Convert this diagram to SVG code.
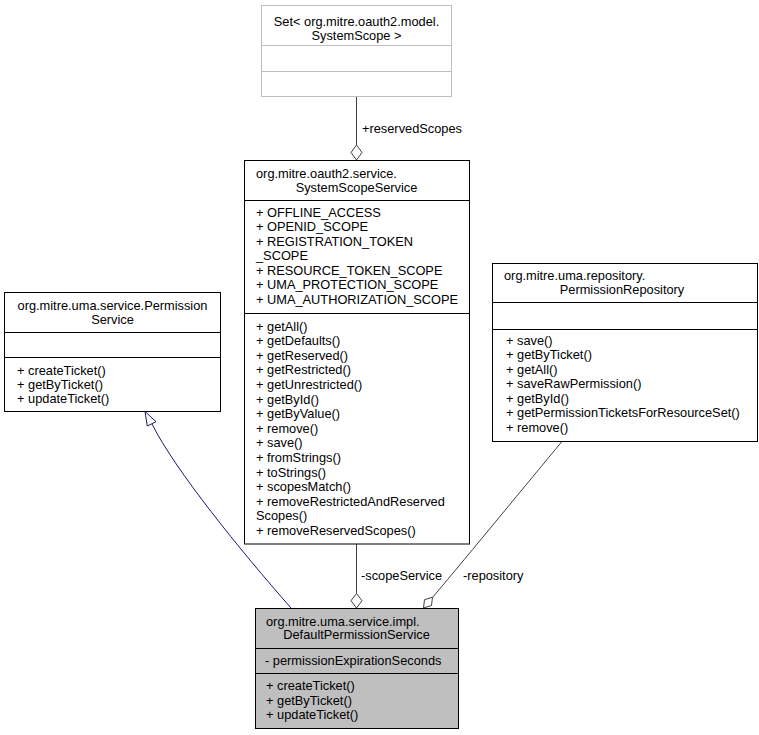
<svg xmlns="http://www.w3.org/2000/svg" width="759" height="735" viewBox="0 0 759 735">
<style>
text{font-family:"Liberation Sans",Arial,sans-serif;font-size:12.8px;fill:#000}
.c{text-anchor:middle}
.box{fill:#fff;stroke:#000;stroke-width:1}
.gbox{fill:#fff;stroke:#bfbfbf;stroke-width:1}
.sel{fill:#bfbfbf;stroke:#000;stroke-width:1}
.sep{stroke:#000;stroke-width:1}
.gsep{stroke:#bfbfbf;stroke-width:1}
.edge{fill:none;stroke:#404040;stroke-width:1}
.inh{fill:none;stroke:#191970;stroke-width:1}
.dia{fill:#fff;stroke:#404040;stroke-width:1}
.tri{fill:#fff;stroke:#191970;stroke-width:1}
</style>
<g id="connectors">
  <path class="edge" d="M356.5,96.5 V145"/>
  <polygon class="dia" points="356.5,160 362,152.5 356.5,145 351,152.5"/>
  <text x="362" y="133">+reservedScopes</text>
  <path class="edge" d="M356.5,544 V593.5"/>
  <polygon class="dia" points="356.5,608 362,600.7 356.5,593.5 351,600.7"/>
  <text x="361" y="579.5">-scopeService</text>
  <path class="edge" d="M561.5,442 C530,480 470,553 432.5,597.5"/>
  <polygon class="dia" points="423.5,608 431.5,605.5 432.5,597.2 424.5,599.7"/>
  <text x="463" y="579.5">-repository</text>
  <path class="inh" d="M152,424 C175,470 240,550 291,608"/>
  <polygon class="tri" points="145,411.5 147.3,426 156,421.7"/>
</g>
<g id="node-set">
  <rect class="gbox" x="261.5" y="5.5" width="190" height="91"/>
  <line class="gsep" x1="261.5" y1="45.5" x2="451.5" y2="45.5"/>
  <line class="gsep" x1="261.5" y1="71.5" x2="451.5" y2="71.5"/>
  <text class="c" x="356.5" y="26">Set&lt; org.mitre.oauth2.model.</text>
  <text class="c" x="356.5" y="40">SystemScope &gt;</text>
</g>
<g id="node-systemscopeservice">
  <rect class="box" x="244.5" y="160.5" width="225" height="383.5"/>
  <line class="sep" x1="244.5" y1="200.5" x2="469.5" y2="200.5"/>
  <line class="sep" x1="244.5" y1="313.5" x2="469.5" y2="313.5"/>
  <text x="256" y="178">org.mitre.oauth2.service.</text>
  <text class="c" x="356.5" y="191.5">SystemScopeService</text>
  <text x="256" y="216.5">+ OFFLINE_ACCESS</text>
  <text x="256" y="231">+ OPENID_SCOPE</text>
  <text x="256" y="245.5">+ REGISTRATION_TOKEN</text>
  <text x="256" y="260">_SCOPE</text>
  <text x="256" y="274.5">+ RESOURCE_TOKEN_SCOPE</text>
  <text x="256" y="289">+ UMA_PROTECTION_SCOPE</text>
  <text x="256" y="303.5">+ UMA_AUTHORIZATION_SCOPE</text>
  <text x="256" y="330.5">+ getAll()</text>
  <text x="256" y="345.1">+ getDefaults()</text>
  <text x="256" y="359.7">+ getReserved()</text>
  <text x="256" y="374.3">+ getRestricted()</text>
  <text x="256" y="388.9">+ getUnrestricted()</text>
  <text x="256" y="403.5">+ getById()</text>
  <text x="256" y="418.1">+ getByValue()</text>
  <text x="256" y="432.7">+ remove()</text>
  <text x="256" y="447.3">+ save()</text>
  <text x="256" y="461.9">+ fromStrings()</text>
  <text x="256" y="476.5">+ toStrings()</text>
  <text x="256" y="491.1">+ scopesMatch()</text>
  <text x="256" y="505.7">+ removeRestrictedAndReserved</text>
  <text x="256" y="520.3">Scopes()</text>
  <text x="256" y="534.9">+ removeReservedScopes()</text>
</g>
<g id="node-permissionservice">
  <rect class="box" x="4.5" y="292.5" width="216" height="119"/>
  <line class="sep" x1="4.5" y1="332.5" x2="220.5" y2="332.5"/>
  <line class="sep" x1="4.5" y1="357.5" x2="220.5" y2="357.5"/>
  <text class="c" x="112.5" y="310">org.mitre.uma.service.Permission</text>
  <text class="c" x="112.5" y="323.5">Service</text>
  <text x="17" y="374.5">+ createTicket()</text>
  <text x="17" y="389">+ getByTicket()</text>
  <text x="17" y="403">+ updateTicket()</text>
</g>
<g id="node-permissionrepository">
  <rect class="box" x="492.5" y="263.5" width="265" height="178"/>
  <line class="sep" x1="492.5" y1="302.5" x2="757.5" y2="302.5"/>
  <line class="sep" x1="492.5" y1="329.5" x2="757.5" y2="329.5"/>
  <text x="504" y="279.5">org.mitre.uma.repository.</text>
  <text class="c" x="622" y="293.5">PermissionRepository</text>
  <text x="506" y="344.5">+ save()</text>
  <text x="506" y="359">+ getByTicket()</text>
  <text x="506" y="373.5">+ getAll()</text>
  <text x="506" y="388">+ saveRawPermission()</text>
  <text x="506" y="402.5">+ getById()</text>
  <text x="506" y="417">+ getPermissionTicketsForResourceSet()</text>
  <text x="506" y="431.5">+ remove()</text>
</g>
<g id="node-defaultpermissionservice">
  <rect class="sel" x="255.5" y="608.5" width="203" height="120"/>
  <line class="sep" x1="255.5" y1="648.5" x2="458.5" y2="648.5"/>
  <line class="sep" x1="255.5" y1="673.5" x2="458.5" y2="673.5"/>
  <text x="266" y="625.5">org.mitre.uma.service.impl.</text>
  <text class="c" x="356.5" y="639">DefaultPermissionService</text>
  <text x="265" y="664.5">- permissionExpirationSeconds</text>
  <text x="266" y="690">+ createTicket()</text>
  <text x="266" y="704.5">+ getByTicket()</text>
  <text x="266" y="719">+ updateTicket()</text>
</g>
</svg>
